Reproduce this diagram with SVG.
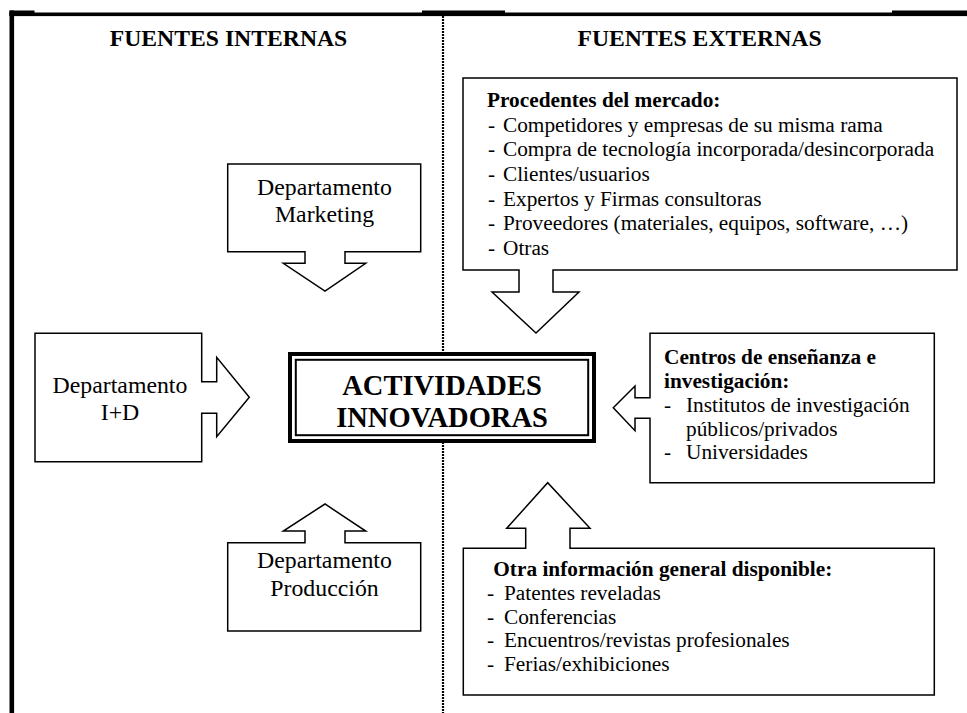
<svg xmlns="http://www.w3.org/2000/svg" width="967" height="713" viewBox="0 0 967 713">
<style>
text{font-family:"Liberation Serif","Times New Roman",serif;fill:#000}
.t{font-size:23.7px;font-weight:bold;text-anchor:middle}
.d{font-size:23.8px;text-anchor:middle}
.b{font-size:21.3px;font-weight:bold}
.r{font-size:21.3px}
.big{font-size:28.5px;font-weight:bold;text-anchor:middle}
.shape{fill:#fff;stroke:#000;stroke-width:1.5;stroke-linejoin:miter}
</style>
<rect width="967" height="713" fill="#fff"/>
<g id="frame">
<rect x="9.5" y="12.5" width="957.5" height="3.6" fill="#000"/>
<rect x="9.5" y="10.5" width="25" height="5.5" fill="#000"/>
<rect x="422" y="10.5" width="83" height="5.5" fill="#000"/>
<rect x="892" y="10.5" width="75" height="5.5" fill="#000"/>
<rect x="9.5" y="10.5" width="4.6" height="702.5" fill="#000"/>
<line x1="443" y1="16" x2="443" y2="713" stroke="#000" stroke-width="2.2" stroke-dasharray="2 1"/>
</g>
<g id="titles">
<text class="t" x="228.5" y="46">FUENTES INTERNAS</text>
<text class="t" x="699.5" y="46">FUENTES EXTERNAS</text>
</g>
<g id="connectors"></g>
<g id="marketing">
<path class="shape" d="M227.7,164 H420.7 V251.7 H345 V263.3 H365.7 L325,291 L283.3,263.3 H305 V251.7 H227.7 Z"/>
<text class="d" x="324.5" y="194.5">Departamento</text>
<text class="d" x="324.5" y="222">Marketing</text>
</g>
<g id="id">
<path class="shape" d="M35,333.3 H201.7 V381.7 H216.7 V357.3 L249.3,397.3 L216.7,436.7 V413.3 H201.7 V461.7 H35 Z"/>
<text class="d" x="120" y="392.7">Departamento</text>
<text class="d" x="120" y="420">I+D</text>
</g>
<g id="produccion">
<path class="shape" d="M227.7,542.7 H305 V531 H283.3 L325,504 L365.7,531 H345 V542.7 H420.7 V631 H227.7 Z"/>
<text class="d" x="324.5" y="568">Departamento</text>
<text class="d" x="324.5" y="595.5">Producción</text>
</g>
<g id="actividades">
<rect x="290" y="354" width="304" height="87" fill="#fff" stroke="#000" stroke-width="4"/>
<rect x="295.8" y="359.8" width="292.4" height="75.4" fill="none" stroke="#000" stroke-width="2"/>
<text class="big" x="442" y="395">ACTIVIDADES</text>
<text class="big" x="442" y="426.5">INNOVADORAS</text>
</g>
<g id="mercado">
<path class="shape" d="M463,78 H957 V270 H553 V292 H579 L536,333 L492,292 H519 V270 H463 Z"/>
<text class="b" x="487" y="107">Procedentes del mercado:</text>
<text class="r" x="488" y="131.7">-</text><text class="r" x="503" y="131.7">Competidores y empresas de su misma rama</text>
<text class="r" x="488" y="156.3">-</text><text class="r" x="503" y="156.3">Compra de tecnología incorporada/desincorporada</text>
<text class="r" x="488" y="181">-</text><text class="r" x="503" y="181">Clientes/usuarios</text>
<text class="r" x="488" y="205.7">-</text><text class="r" x="503" y="205.7">Expertos y Firmas consultoras</text>
<text class="r" x="488" y="230.3">-</text><text class="r" x="503" y="230.3">Proveedores (materiales, equipos, software, …)</text>
<text class="r" x="488" y="255">-</text><text class="r" x="503" y="255">Otras</text>
</g>
<g id="centros">
<path class="shape" d="M650,333.3 H934.3 V482.7 H650 V418.3 H635 V430.7 L613.3,407.7 L635,386 V397.7 H650 Z"/>
<text class="b" x="664" y="364">Centros de enseñanza e</text>
<text class="b" x="664" y="388">investigación:</text>
<text class="r" x="664" y="411.7">-</text><text class="r" x="686" y="411.7">Institutos de investigación</text>
<text class="r" x="686" y="435.5">públicos/privados</text>
<text class="r" x="664" y="459.3">-</text><text class="r" x="686" y="459.3">Universidades</text>
</g>
<g id="otra">
<path class="shape" d="M463.3,548.3 H525.7 V528.3 H506.7 L547.7,482.7 L590,528.3 H570 V548.3 H934.3 V695 H463.3 Z"/>
<text class="b" x="493.3" y="576">Otra información general disponible:</text>
<text class="r" x="487" y="600">-</text><text class="r" x="504" y="600">Patentes reveladas</text>
<text class="r" x="487" y="623.5">-</text><text class="r" x="504" y="623.5">Conferencias</text>
<text class="r" x="487" y="647">-</text><text class="r" x="504" y="647">Encuentros/revistas profesionales</text>
<text class="r" x="487" y="670.5">-</text><text class="r" x="504" y="670.5">Ferias/exhibiciones</text>
</g>
</svg>
